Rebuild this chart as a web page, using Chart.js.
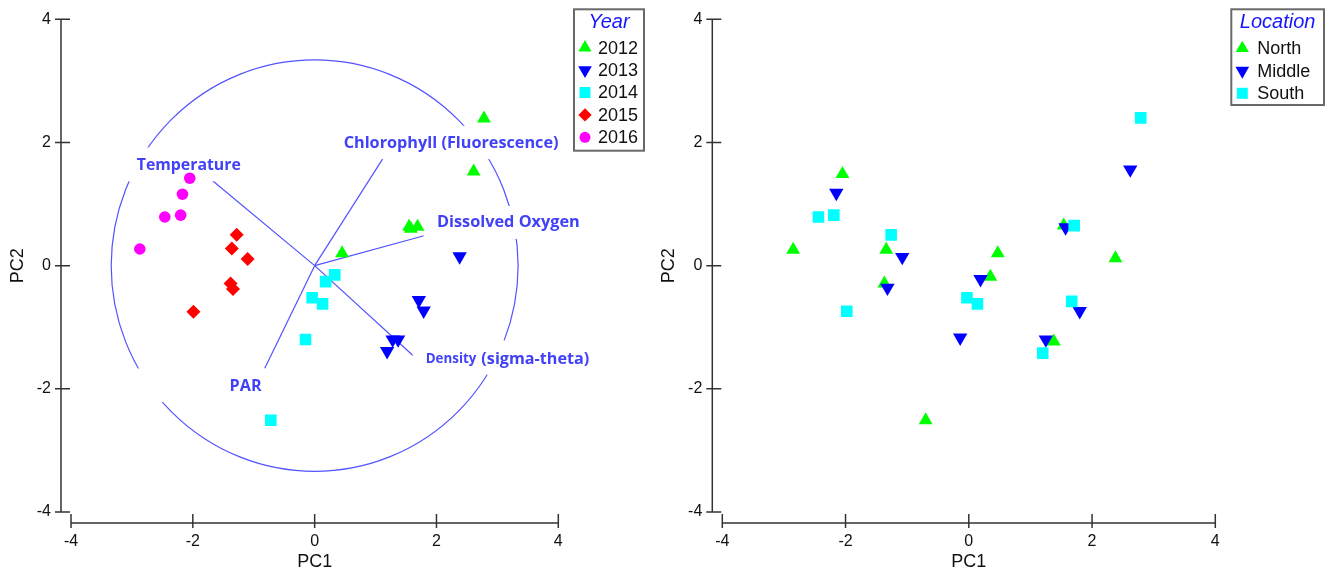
<!DOCTYPE html>
<html><head><meta charset="utf-8">
<script src="https://cdn.jsdelivr.net/npm/chart.js@4.4.1/dist/chart.umd.min.js"></script>
<style>
html,body{margin:0;padding:0;background:#fff;}
#wrap{position:relative;width:1328px;height:575px;overflow:hidden;background:#fff}
canvas{position:absolute;top:0}
#c1{left:0}
#c2{left:656px}
</style></head><body>
<div id="wrap"><canvas id="c1" width="656" height="575"></canvas><canvas id="c2" width="672" height="575"></canvas></div>
<script>
// ---------------- DATA ----------------
const axisMin = -4, axisMax = 4, axisStep = 2;

// Left panel: scores by Year
const yearLabels = ['2012', '2013', '2014', '2015', '2016'];
const year2012 = [{x:2.78,y:2.39},{x:2.61,y:1.53},{x:1.55,y:0.63},{x:1.58,y:0.60},{x:1.69,y:0.63},{x:0.45,y:0.20}];
const year2013 = [{x:2.38,y:0.15},{x:1.71,y:-0.56},{x:1.79,y:-0.73},{x:1.28,y:-1.20},{x:1.37,y:-1.20},{x:1.19,y:-1.39}];
const year2014 = [{x:0.33,y:-0.15},{x:0.18,y:-0.26},{x:-0.04,y:-0.52},{x:0.13,y:-0.62},{x:-0.15,y:-1.20},{x:-0.72,y:-2.51}];
const year2015 = [{x:-1.28,y:0.50},{x:-1.36,y:0.28},{x:-1.10,y:0.11},{x:-1.38,y:-0.29},{x:-1.34,y:-0.38},{x:-1.99,y:-0.75}];
const year2016 = [{x:-2.05,y:1.42},{x:-2.17,y:1.16},{x:-2.46,y:0.79},{x:-2.20,y:0.82},{x:-2.87,y:0.27}];

// Biplot loadings (visible vector tips) and correlation circle
const loadingNames = ['Temperature', 'Chlorophyll (Fluorescence)', 'Dissolved Oxygen', 'Density (sigma-theta)', 'PAR'];
const loadingTipX = [-1.675, 1.117, 1.795, 1.614, -0.821];
const loadingTipY = [1.378, 1.734, 0.486, -1.459, -1.669];
const circleRadius = 3.34;

// Right panel: scores by Location
const locationLabels = ['North', 'Middle', 'South'];
const locNorth = [{x:-2.05,y:1.49},{x:-2.85,y:0.26},{x:-1.34,y:0.26},{x:-1.37,y:-0.29},{x:-0.70,y:-2.51},{x:0.47,y:0.20},{x:0.35,y:-0.18},{x:1.54,y:0.65},{x:2.38,y:0.12},{x:1.38,y:-1.23}];
const locMiddle = [{x:-2.15,y:1.18},{x:-1.08,y:0.14},{x:-1.32,y:-0.36},{x:0.19,y:-0.22},{x:-0.14,y:-1.17},{x:2.62,y:1.56},{x:1.57,y:0.62},{x:1.80,y:-0.74},{x:1.25,y:-1.20}];
const locSouth = [{x:-2.44,y:0.79},{x:-2.19,y:0.82},{x:-1.26,y:0.50},{x:-1.98,y:-0.74},{x:-0.03,y:-0.52},{x:0.14,y:-0.62},{x:2.79,y:2.40},{x:1.71,y:0.65},{x:1.67,y:-0.58},{x:1.20,y:-1.42}];

// ---------------- STYLE / LAYOUT ----------------
const FONT = '"Liberation Sans", Arial, sans-serif';
Chart.defaults.font.family = FONT;
Chart.defaults.color = '#111';

const MK = {
  up:   {pointStyle:'triangle', radius:8,   rotation:0},
  down: {pointStyle:'triangle', radius:8.3, rotation:180},
  sq:   {pointStyle:'rect',     radius:8.2, rotation:0},
  dia:  {pointStyle:'rectRot',  radius:7,   rotation:0},
  circ: {pointStyle:'circle',   radius:5.8, rotation:0}
};
function ds(label, data, color, mk, order){
  return {label, data, backgroundColor:color, borderWidth:0, pointStyle:mk.pointStyle,
          pointRadius:mk.radius, pointHoverRadius:mk.radius, rotation:mk.rotation, order:order||0};
}

// label layout in data units: text left x, centre y, target width, white box [l,r,t,b]
const biplotLabelLayout = [
  {parts:[{t:'Temperature', x:-2.92, w:104}], y:1.63, box:[-3.14,-1.07,1.92,1.37]},
  {parts:[{t:'Chlorophyll (Fluorescence)', x:0.476, w:215}], y:2.0, box:[0.26,4.2,2.27,1.73]},
  {parts:[{t:'Dissolved Oxygen', x:2.008, w:143}], y:0.705, box:[1.79,4.6,0.97,0.435]},
  {parts:[{t:'Density', x:1.823, w:50.7},{t:'(sigma-theta)', x:2.737, w:108}], y:-1.515, box:[1.61,4.7,-1.215,-1.77]},
  {parts:[{t:'PAR', x:-1.396, w:32}], y:-1.953, box:[-2.95,-0.66,-1.67,-2.215]}
];

const biplotPlugin = {
  id:'biplot',
  beforeDatasetsDraw(chart){
    const {ctx} = chart; const xs = chart.scales.x, ys = chart.scales.y;
    const ox = xs.getPixelForValue(0), oy = ys.getPixelForValue(0);
    const rx = Math.abs(xs.getPixelForValue(circleRadius) - ox);
    const ry = Math.abs(ys.getPixelForValue(circleRadius) - oy);
    ctx.save();
    ctx.strokeStyle = '#5252ff'; ctx.lineWidth = 1.2;
    ctx.beginPath(); ctx.ellipse(ox, oy, rx, ry, 0, 0, Math.PI*2); ctx.stroke();
    for (let i = 0; i < loadingNames.length; i++){
      ctx.beginPath(); ctx.moveTo(ox, oy);
      ctx.lineTo(xs.getPixelForValue(loadingTipX[i]), ys.getPixelForValue(loadingTipY[i]));
      ctx.stroke();
    }
    ctx.fillStyle = '#fff';
    biplotLabelLayout.forEach(L => {
      const l = xs.getPixelForValue(L.box[0]), r = xs.getPixelForValue(L.box[1]);
      const t = ys.getPixelForValue(L.box[2]), b = ys.getPixelForValue(L.box[3]);
      ctx.fillRect(l, t, r - l, b - t);
    });
    ctx.fillStyle = '#4141f7'; ctx.textBaseline = 'middle'; ctx.textAlign = 'left';
    biplotLabelLayout.forEach(L => {
      L.parts.forEach(p => {
        ctx.font = 'bold 100px "Open Sans", "Noto Sans", sans-serif';
        const w0 = ctx.measureText(p.t).width;
        const s = 100 * p.w / w0;
        ctx.font = 'bold ' + s.toFixed(2) + 'px "Open Sans", "Noto Sans", sans-serif';
        ctx.fillText(p.t, xs.getPixelForValue(p.x), ys.getPixelForValue(L.y) + 0.5);
      });
    });
    ctx.restore();
  }
};

// offset axes (Origin style): y-axis 10px left of plot, x-axis 11px below plot
const offsetAxesPlugin = {
  id:'offsetAxes',
  afterDraw(chart){
    const {ctx} = chart; const xs = chart.scales.x, ys = chart.scales.y;
    const ax = xs.getPixelForValue(axisMin) - 10, ay = ys.getPixelForValue(axisMin) + 11;
    ctx.save();
    ctx.strokeStyle = '#333'; ctx.lineWidth = 1.5; ctx.lineCap = 'butt';
    ctx.beginPath();
    ctx.moveTo(ax, ys.getPixelForValue(axisMax)); ctx.lineTo(ax, ys.getPixelForValue(axisMin));
    ctx.moveTo(xs.getPixelForValue(axisMin), ay); ctx.lineTo(xs.getPixelForValue(axisMax), ay);
    ys.ticks.forEach(t => { const p = ys.getPixelForValue(t.value); ctx.moveTo(ax - 6, p); ctx.lineTo(ax + 9, p); });
    xs.ticks.forEach(t => { const p = xs.getPixelForValue(t.value); ctx.moveTo(p, ay - 9); ctx.lineTo(p, ay + 5); });
    ctx.stroke();
    ctx.restore();
  }
};

function boxLegend(cfg){
  return {
    id:'boxLegend',
    afterDraw(chart){
      const {ctx} = chart; const [l,t,r,b] = cfg.box;
      ctx.save();
      ctx.fillStyle = '#fff'; ctx.fillRect(l, t, r - l, b - t);
      ctx.strokeStyle = '#6a6a6a'; ctx.lineWidth = 2; ctx.strokeRect(l, t, r - l, b - t);
      ctx.fillStyle = '#1515ff'; ctx.font = 'italic 20px ' + FONT;
      ctx.textAlign = 'center'; ctx.textBaseline = 'middle';
      ctx.fillText(cfg.title, (l + r) / 2 + cfg.titleDx, cfg.titleY);
      chart.data.datasets.forEach((d, i) => {
        const y = cfg.rowY0 + i * cfg.rowStep;
        ctx.fillStyle = d.backgroundColor;
        Chart.helpers.drawPoint(ctx, {pointStyle:d.pointStyle, radius:d.pointRadius * 0.95, rotation:d.rotation, borderWidth:0}, l + cfg.symDx, y);
        ctx.fillStyle = '#111'; ctx.font = '18px ' + FONT; ctx.textAlign = 'left';
        ctx.fillText(d.label, l + cfg.textDx, y + 1);
      });
      ctx.restore();
    }
  };
}

function makeScales(yWidth, yTitlePad){
  return {
    x: {type:'linear', min:axisMin, max:axisMax,
        ticks:{stepSize:axisStep, padding:20, color:'#111', font:{size:16}},
        grid:{display:false, drawTicks:false}, border:{display:false},
        title:{display:true, text:'PC1', color:'#111', font:{size:18}, padding:{top:0, bottom:2}},
        afterFit(s){ s.height = 63; s.paddingLeft = 0; s.paddingRight = 0; }},
    y: {type:'linear', min:axisMin, max:axisMax,
        ticks:{stepSize:axisStep, padding:20, color:'#111', font:{size:16}},
        grid:{display:false, drawTicks:false}, border:{display:false},
        title:{display:true, text:'PC2', color:'#111', font:{size:18}, padding:{top:yTitlePad, bottom:0}},
        afterFit(s){ s.width = yWidth; s.paddingTop = 0; s.paddingBottom = 0; }}
  };
}
const commonPlugins = {legend:{display:false}, tooltip:{enabled:false}};

new Chart(document.getElementById('c1'), {
  type:'scatter',
  data:{datasets:[
    ds(yearLabels[0], year2012, '#00ff00', MK.up),
    ds(yearLabels[1], year2013, '#0000ff', MK.down),
    ds(yearLabels[2], year2014, '#00ffff', MK.sq),
    ds(yearLabels[3], year2015, '#ff0000', MK.dia),
    ds(yearLabels[4], year2016, '#ff00ff', MK.circ)
  ]},
  options:{
    responsive:false, animation:false, devicePixelRatio:1,
    layout:{autoPadding:false, padding:{left:0, top:19.3, right:97.7, bottom:0}},
    scales: makeScales(71, 7.5),
    plugins: commonPlugins
  },
  plugins:[biplotPlugin, offsetAxesPlugin,
    boxLegend({box:[574,9.3,644,150.7], title:'Year', titleDx:0, titleY:22.5, rowY0:47.7, rowStep:22.4, symDx:11, textDx:24})]
});

new Chart(document.getElementById('c2'), {
  type:'scatter',
  data:{datasets:[
    ds(locationLabels[0], locNorth, '#00ff00', MK.up, 2),
    ds(locationLabels[1], locMiddle, '#0000ff', MK.down, 1),
    ds(locationLabels[2], locSouth, '#00ffff', MK.sq, 0)
  ]},
  options:{
    responsive:false, animation:false, devicePixelRatio:1,
    layout:{autoPadding:false, padding:{left:0, top:19.3, right:112.7, bottom:0}},
    scales: makeScales(66.3, 2),
    plugins: commonPlugins
  },
  plugins:[offsetAxesPlugin,
    boxLegend({box:[575.3,9.3,668,105], title:'Location', titleDx:0, titleY:22.5, rowY0:48.3, rowStep:22.5, symDx:11, textDx:26})]
});
</script>
</body></html>
